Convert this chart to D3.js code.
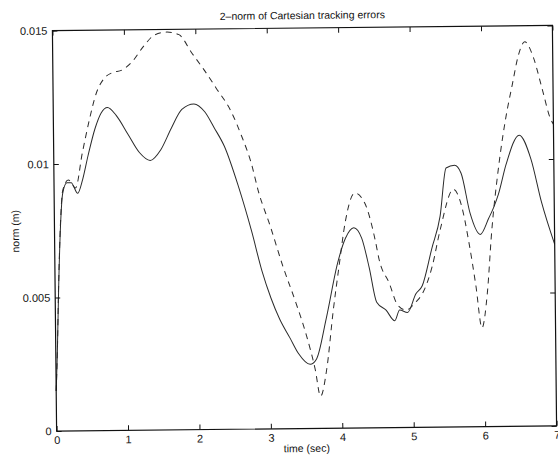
<!DOCTYPE html>
<html>
<head>
<meta charset="utf-8">
<script src="https://cdn.jsdelivr.net/npm/d3@7"></script>
<style>
  body { margin: 0; background: #fff; }
  svg { display: block; font-family: "Liberation Sans", Arial, Helvetica, sans-serif; }
</style>
</head>
<body>
<svg width="558" height="457"></svg>
<script>
// solid curve (sampled by eye from the plot)
const solidT = [0, 0.02, 0.05, 0.085, 0.12, 0.18, 0.24, 0.33, 0.4, 0.48, 0.58, 0.67, 0.76, 0.88, 1.04, 1.2, 1.35, 1.5, 1.65, 1.8, 1.97, 2.12, 2.25, 2.39, 2.58, 2.76, 2.9, 3.02, 3.14, 3.28, 3.4, 3.56, 3.65, 3.79, 3.96, 4.07, 4.19, 4.3, 4.4, 4.5, 4.63, 4.75, 4.82, 4.93, 5.05, 5.14, 5.28, 5.4, 5.49, 5.61, 5.7, 5.82, 5.96, 6.08, 6.15, 6.22, 6.33, 6.52, 6.68, 6.82, 7.0];
const solidV = [0.0015, 0.0028, 0.0054, 0.0077, 0.0089, 0.0093, 0.0093, 0.0089, 0.0094, 0.0103, 0.0113, 0.0119, 0.0121, 0.0118, 0.0111, 0.0104, 0.0101, 0.0105, 0.0113, 0.0120, 0.0122, 0.0119, 0.0113, 0.0106, 0.0091, 0.0074, 0.0059, 0.0049, 0.0041, 0.0034, 0.0028, 0.0024, 0.0026, 0.0041, 0.0062, 0.0071, 0.0075, 0.0071, 0.0060, 0.0047, 0.0044, 0.0040, 0.0044, 0.0043, 0.0050, 0.0053, 0.0067, 0.0079, 0.0097, 0.0098, 0.0095, 0.0080, 0.0072, 0.0078, 0.0082, 0.0087, 0.0098, 0.0109, 0.0100, 0.0084, 0.0068];

// dashed curve
const dashT = [0, 0.02, 0.05, 0.085, 0.12, 0.2, 0.3, 0.4, 0.5, 0.6, 0.72, 0.83, 0.97, 1.11, 1.28, 1.43, 1.6, 1.77, 1.95, 2.11, 2.28, 2.49, 2.63, 2.77, 2.86, 3.02, 3.19, 3.37, 3.51, 3.63, 3.7, 3.79, 3.89, 3.98, 4.07, 4.21, 4.35, 4.49, 4.54, 4.68, 4.79, 4.91, 5.05, 5.14, 5.28, 5.4, 5.59, 5.7, 5.8, 5.89, 5.97, 6.05, 6.12, 6.22, 6.33, 6.43, 6.52, 6.61, 6.73, 6.85, 6.96, 7.0];
const dashV = [0.0015, 0.0028, 0.0055, 0.0078, 0.0090, 0.0094, 0.0091, 0.0104, 0.0116, 0.0126, 0.0132, 0.0134, 0.0135, 0.0138, 0.0144, 0.0148, 0.0149, 0.0148, 0.0141, 0.0135, 0.0128, 0.0119, 0.0110, 0.0099, 0.0089, 0.0076, 0.0061, 0.0047, 0.0035, 0.0022, 0.0012, 0.0022, 0.0044, 0.0061, 0.0077, 0.0088, 0.0084, 0.0070, 0.0063, 0.0054, 0.0046, 0.0044, 0.0047, 0.0050, 0.0060, 0.0074, 0.0089, 0.0083, 0.0069, 0.0053, 0.0037, 0.0050, 0.0073, 0.0096, 0.0115, 0.0128, 0.0139, 0.0144, 0.0138, 0.0126, 0.0115, 0.0113];

const xTicks = [0, 1, 2, 3, 4, 5, 6, 7];
const yTicks = [0, 0.005, 0.01, 0.015];
const yTickLabels = ["0", "0.005", "0.01", "0.015"];

const svg = d3.select("svg");
const plotLeft = 54.5, plotRight = 554.5, plotTop = 28, plotBottom = 428.5;

// the scanned figure is tilted a little
const g = svg.append("g")
  .attr("transform", "rotate(-0.6, 304.5, 228.2)");

const x = d3.scaleLinear().domain([0, 7]).range([plotLeft, plotRight]);
const y = d3.scaleLinear().domain([0, 0.015]).range([plotBottom, plotTop]);

const line = d3.line()
  .x(d => x(d[0]))
  .y(d => y(d[1]))
  .curve(d3.curveMonotoneX);

g.append("path")
  .datum(d3.zip(solidT, solidV))
  .attr("d", line)
  .attr("fill", "none")
  .attr("stroke", "#2a2a2a")
  .attr("stroke-width", 1);

g.append("path")
  .datum(d3.zip(dashT, dashV))
  .attr("d", line)
  .attr("fill", "none")
  .attr("stroke", "#2a2a2a")
  .attr("stroke-width", 1)
  .attr("stroke-dasharray", "6,5");

// axes, ticks pointing inwards
g.append("g")
  .attr("transform", `translate(0,${plotBottom})`)
  .call(d3.axisBottom(x).tickValues(xTicks).tickFormat(d3.format("d")).tickSize(-5).tickPadding(5));
g.append("g")
  .attr("transform", `translate(0,${plotTop})`)
  .call(d3.axisTop(x).tickValues(xTicks).tickFormat("").tickSize(-5));
g.append("g")
  .attr("transform", `translate(${plotLeft},0)`)
  .call(d3.axisLeft(y).tickValues(yTicks).tickFormat((d, i) => yTickLabels[i]).tickSize(-5).tickPadding(5));
g.append("g")
  .attr("transform", `translate(${plotRight},0)`)
  .call(d3.axisRight(y).tickValues(yTicks).tickFormat("").tickSize(-5));

g.selectAll(".domain").remove();
g.selectAll(".tick line").attr("stroke", "#111");
g.selectAll(".tick text")
  .attr("fill", "#111")
  .style("font-size", "11px")
  .style("font-family", "'Liberation Sans', Arial, sans-serif");

g.append("rect")
  .attr("x", plotLeft)
  .attr("y", plotTop)
  .attr("width", plotRight - plotLeft)
  .attr("height", plotBottom - plotTop)
  .attr("fill", "none")
  .attr("stroke", "#111")
  .attr("stroke-width", 1.2);

g.append("text")
  .attr("x", (plotLeft + plotRight) / 2)
  .attr("y", plotTop - 9)
  .attr("text-anchor", "middle")
  .style("font-size", "10.5px")
  .attr("fill", "#111")
  .text("2\u2013norm of Cartesian tracking errors");

g.append("text")
  .attr("x", (plotLeft + plotRight) / 2)
  .attr("y", plotBottom + 23.5)
  .attr("text-anchor", "middle")
  .style("font-size", "10.5px")
  .attr("fill", "#111")
  .text("time (sec)");

g.append("text")
  .attr("transform", `translate(19,${(plotTop + plotBottom) / 2}) rotate(-90)`)
  .attr("text-anchor", "middle")
  .style("font-size", "10.5px")
  .attr("fill", "#111")
  .text("norm (m)");
</script>
</body>
</html>
